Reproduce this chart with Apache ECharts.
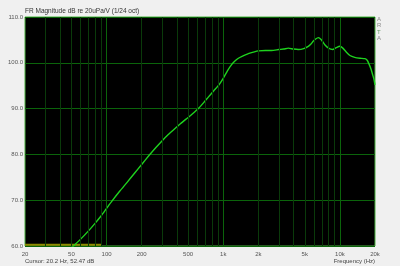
<!DOCTYPE html>
<html>
<head>
<meta charset="utf-8">
<script src="https://cdn.jsdelivr.net/npm/echarts@6/dist/echarts.min.js"></script>
<style>
html, body { margin: 0; padding: 0; background: #f0f0f0; }
#chart { width: 400px; height: 266px; }
</style>
</head>
<body>
<div id="chart"></div>
<script>
var freqs = [45, 52, 60, 70, 80, 90, 100, 112, 130, 150, 175, 200, 232, 265, 300, 340, 380, 430, 480, 519, 565, 612, 680, 745, 830, 926, 1000, 1090, 1180, 1260, 1350, 1450, 1640, 1850, 2000, 2300, 2600, 3000, 3300, 3614, 4000, 4400, 4900, 5360, 5650, 5900, 6200, 6530, 6900, 7456, 8000, 8670, 9300, 10020, 10600, 11300, 12200, 13400, 14870, 16400, 17200, 17860, 18500, 19100, 19600, 20000];
var levels = [58.5, 60.0, 61.5, 63.3, 65.0, 66.6, 68.2, 69.9, 72.0, 73.9, 76.0, 77.8, 79.8, 81.5, 83.0, 84.4, 85.5, 86.7, 87.7, 88.4, 89.2, 90.0, 91.3, 92.5, 93.9, 95.3, 96.6, 98.3, 99.6, 100.4, 101.0, 101.4, 102.0, 102.4, 102.6, 102.7, 102.7, 102.9, 103.0, 103.2, 103.0, 102.9, 103.1, 103.6, 104.1, 104.7, 105.2, 105.5, 105.1, 103.9, 103.2, 102.9, 103.3, 103.6, 103.2, 102.4, 101.6, 101.2, 101.0, 100.9, 100.5, 99.6, 98.6, 97.4, 96.4, 95.2];

// olive range marker along the bottom
var markerFreqs = [20, 91];
var markerLevels = [60.3, 60.3];

var freqLabels = [20, 50, 100, 200, 500, 1000, 2000, 5000, 10000, 20000];
var minorGrid = [30, 40, 50, 60, 70, 80, 90, 200, 300, 400, 500, 600, 700, 800, 900, 2000, 3000, 4000, 5000, 6000, 7000, 8000, 9000];
var majorGrid = [100, 1000, 10000];

var chart = echarts.init(document.getElementById('chart'), null, { renderer: 'canvas' });

function zip(a, b) {
  return a.map(function (v, i) { return [v, b[i]]; });
}

var gridLines = minorGrid.map(function (f) {
  return { xAxis: f, lineStyle: { color: '#0a3a0a' } };
}).concat(majorGrid.map(function (f) {
  return { xAxis: f, lineStyle: { color: '#0b640b' } };
}));

var font = 'Liberation Sans';

var option = {
  animation: false,
  backgroundColor: '#f0f0f0',
  grid: {
    left: 25, right: 25, top: 17, bottom: 20,
    show: true,
    backgroundColor: '#000',
    borderColor: '#4cb040',
    borderWidth: 1
  },
  xAxis: {
    type: 'log',
    logBase: 10,
    min: 20,
    max: 20000,
    axisLine: { show: false },
    axisTick: { show: false },
    splitLine: { show: false },
    minorTick: { show: false },
    axisLabel: {
      customValues: freqLabels,
      color: '#555',
      fontSize: 6,
      fontFamily: font,
      margin: 5,
      formatter: function (v) {
        return v >= 1000 ? (v / 1000) + 'k' : String(v);
      }
    }
  },
  yAxis: {
    type: 'value',
    min: 60,
    max: 110,
    interval: 10,
    axisLine: { show: false },
    axisTick: { show: false },
    splitLine: { lineStyle: { color: '#0b640b', width: 1 } },
    axisLabel: {
      color: '#555',
      fontSize: 6,
      fontFamily: font,
      margin: 2,
      formatter: function (v) { return v.toFixed(1); }
    }
  },
  series: [
    {
      type: 'line',
      z: 1,
      data: zip(markerFreqs, markerLevels),
      symbol: 'none',
      silent: true,
      lineStyle: { color: '#8c8c00', width: 2 },
      markLine: {
        silent: true,
        symbol: ['none', 'none'],
        label: { show: false },
        lineStyle: { type: 'solid', width: 1 },
        data: gridLines
      }
    },
    {
      type: 'line',
      z: 3,
      data: zip(freqs, levels),
      symbol: 'none',
      smooth: 0.2,
      clip: true,
      lineStyle: { color: '#1ed21e', width: 1.4 }
    }
  ],
  graphic: [
    { type: 'text', left: 25, top: 8, style: { text: 'FR Magnitude dB re 20uPa/V (1/24 oct)', fill: '#333', font: '6.5px ' + font } },
    { type: 'text', left: 25, top: 258, style: { text: 'Cursor: 20.2 Hz, 52.47 dB', fill: '#444', font: '6px ' + font } },
    { type: 'text', right: 25, top: 258, style: { text: 'Frequency (Hz)', fill: '#444', font: '6px ' + font } },
    { type: 'text', left: 377, top: 16, style: { text: 'A', fill: '#8a8a8a', font: '6px ' + font } },
    { type: 'text', left: 377, top: 22, style: { text: 'R', fill: '#8a8a8a', font: '6px ' + font } },
    { type: 'text', left: 377, top: 29, style: { text: 'T', fill: '#6a9a6a', font: '6px ' + font } },
    { type: 'text', left: 377, top: 35, style: { text: 'A', fill: '#8a8a8a', font: '6px ' + font } }
  ]
};

chart.setOption(option);
</script>
</body>
</html>
